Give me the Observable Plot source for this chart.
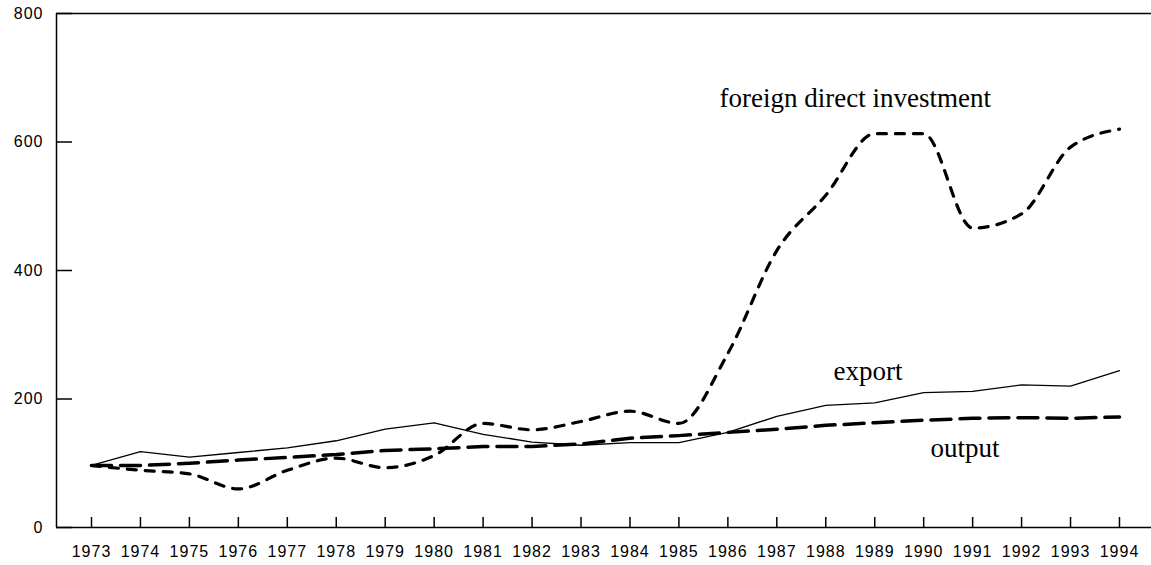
<!DOCTYPE html>
<html>
<head>
<meta charset="utf-8">
<script src="https://cdn.jsdelivr.net/npm/d3@7"></script>
<script src="https://cdn.jsdelivr.net/npm/@observablehq/plot@0.6"></script>
<style>
  html, body { margin: 0; padding: 0; background: #fff; }
  #chart svg { display: block; }
  #chart svg [aria-label$="tick label"] text,
  #chart svg [aria-label$="tick label"] { letter-spacing: 1px; }
</style>
</head>
<body>
<div id="chart"></div>
<script>
const years = [1973,1974,1975,1976,1977,1978,1979,1980,1981,1982,1983,1984,1985,1986,1987,1988,1989,1990,1991,1992,1993,1994];
const fdi    = [96.5,89,83.5,60,89,108,93,112,162,152,165,181,162,271,431,517,613,613,466,488,592,620];
const exportV = [96.5,118,109.5,116.7,124,135,153,163,145,133,128,132,132,148,173,190,194,210,212,222,220,244];
const output = [96.5,96.5,100,105,109,113.6,120,122.5,126,126,130,139,143,148,153,159,163,167,170,171,170,172];
const yTicks = [0,200,400,600,800];
const labelNames = ["foreign direct investment","export","output"];
const labelYears = [1985.83,1988.16,1990.14];
const labelValues = [655,229,110.5];

const toRows = (vals) => years.map((yr, i) => ({year: yr, value: vals[i]}));
const labels = labelNames.map((t, i) => ({text: t, year: labelYears[i], value: labelValues[i]}));

const xMin = 1972.285, xMax = 1994.654;

const chart = Plot.plot({
  width: 1151,
  height: 565,
  marginLeft: 56,
  marginRight: 0,
  marginTop: 13,
  marginBottom: 38,
  style: {fontFamily: "'Liberation Sans', Arial, sans-serif", fontSize: "16px", color: "#000", background: "#fff"},
  x: {domain: [xMin, xMax]},
  y: {domain: [0, 800]},
  marks: [
    Plot.axisX(years, {tickSize: 0, tickPadding: 18, tickFormat: d => String(d), label: null, fontSize: 16}),
    Plot.axisY(yTicks, {tickSize: 0, tickPadding: 13, tickFormat: d => String(d), label: null, fontSize: 16}),
    // frame lines
    Plot.ruleX([xMin], {y1: 0, y2: 800, stroke: "#000", strokeWidth: 1.5}),
    Plot.ruleY([0, 800], {x1: xMin, x2: xMax, stroke: "#000", strokeWidth: 1.5}),
    // inward ticks
    Plot.ruleX(years, {x: d => d, y1: 0, y2: 0, insetBottom: 10, stroke: "#000", strokeWidth: 1.5}),
    Plot.ruleY(yTicks, {y: d => d, x1: xMin, x2: xMin, insetRight: -16, stroke: "#000", strokeWidth: 1.5}),
    // series
    Plot.line(toRows(exportV), {x: "year", y: "value", stroke: "#000", strokeWidth: 1.3}),
    Plot.line(toRows(output), {x: "year", y: "value", stroke: "#000", strokeWidth: 3.5, strokeDasharray: "20,9"}),
    Plot.line(toRows(fdi), {x: "year", y: "value", stroke: "#000", strokeWidth: 3.2, strokeDasharray: "9,9", curve: "monotone-x"}),
    Plot.text(labels, {x: "year", y: "value", text: "text", textAnchor: "start", lineAnchor: "bottom",
      fontFamily: "'Liberation Serif', 'Times New Roman', serif", fontSize: 27, fill: "#000"})
  ]
});
document.getElementById("chart").appendChild(chart);
</script>
</body>
</html>
